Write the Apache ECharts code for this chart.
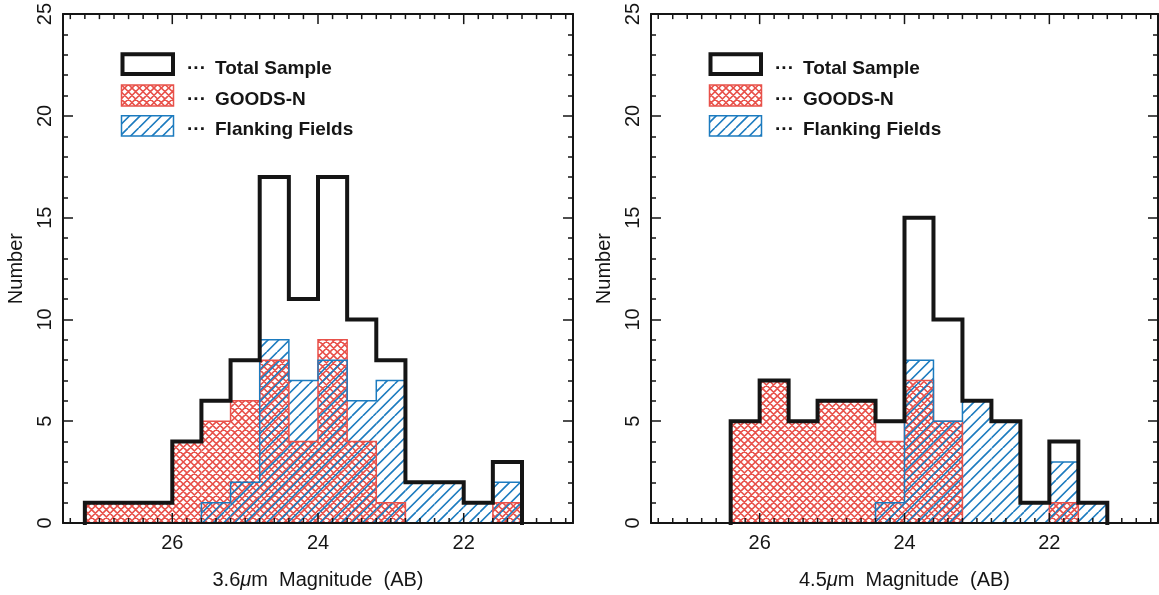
<!DOCTYPE html>
<html>
<head>
<meta charset="utf-8">
<title>IRAC magnitude histograms</title>
<script src="https://cdn.jsdelivr.net/npm/echarts@6/dist/echarts.min.js"></script>
<style>
  html, body { margin: 0; padding: 0; background: #fff; }
  #chart { width: 1159px; height: 595px; }
</style>
</head>
<body>
<div id="chart"></div>
<script>
// bins are 0.4 mag wide, listed by their faint edge
const binWidth = 0.4;
const xMin = 20.5, xMax = 27.5;
const xMajorTicks = [22, 24, 26];
const xMinorStep = 0.2;

// 3.6um panel
const binStart36 = [27.2, 26.8, 26.4, 26.0, 25.6, 25.2, 24.8, 24.4, 24.0, 23.6, 23.2, 22.8, 22.4, 22.0, 21.6];
const total36 = [1, 1, 1, 4, 6, 8, 17, 11, 17, 10, 8, 2, 2, 1, 3];
const goods36 = [1, 1, 1, 4, 5, 6, 8, 4, 9, 4, 1, 0, 0, 0, 1];
const flank36 = [0, 0, 0, 0, 1, 2, 9, 7, 8, 6, 7, 2, 2, 1, 2];

// 4.5um panel
const binStart45 = [26.4, 26.0, 25.6, 25.2, 24.8, 24.4, 24.0, 23.6, 23.2, 22.8, 22.4, 22.0, 21.6];
const total45 = [5, 7, 5, 6, 6, 5, 15, 10, 6, 5, 1, 4, 1];
const goods45 = [5, 7, 5, 6, 6, 4, 7, 5, 0, 0, 0, 1, 0];
const flank45 = [0, 0, 0, 0, 0, 1, 8, 5, 6, 5, 1, 3, 1];

const legendNames = ['Total Sample', 'GOODS-N', 'Flanking Fields'];

const RED = '#e8514a';
const BLUE = '#1c7bbf';
const INK = '#151515';
const FONT = 'Liberation Sans';

// hatch fill as a repeating canvas pattern
function hatch(color, tile, lines, cross) {
    const c = document.createElement('canvas');
    c.width = tile; c.height = tile;
    const g = c.getContext('2d');
    g.strokeStyle = color;
    g.lineWidth = 1.6;
    const s = tile / lines;
    g.beginPath();
    for (let n = -lines; n <= 2 * lines; n++) {
        const k = n * s;
        g.moveTo(k, 0); g.lineTo(k - tile, tile);
        if (cross) { g.moveTo(k, 0); g.lineTo(k + tile, tile); }
    }
    g.stroke();
    return { image: c, repeat: 'repeat' };
}
const redFill = hatch(RED, 22, 3, true);
const blueFill = hatch(BLUE, 32, 3, false);

// x ticks every 0.2 mag, long ones at the labelled values
const xTicks = [];
for (let i = 1; i * xMinorStep + 20.4 < xMax; i++) {
    xTicks.push(+(20.4 + i * xMinorStep).toFixed(1));
}

function outline(starts, vals) {
    const pts = [];
    let prev = 0;
    starts.forEach(function (s, i) {
        const v = vals[i], e = s - binWidth;
        if (v > 0) {
            if (prev === 0) pts.push([s, 0]);
            pts.push([s, v], [e, v]);
        } else if (prev > 0) {
            pts.push([s, 0], ['-', '-']);
        }
        prev = v;
    });
    if (prev > 0) pts.push([starts[starts.length - 1] - binWidth, 0]);
    return pts;
}

function fillSeries(gi, starts, vals, pattern, z) {
    return {
        type: 'custom',
        xAxisIndex: gi * 2,
        yAxisIndex: gi * 2,
        z: z,
        silent: true,
        data: starts.map(function (s, i) { return [s, vals[i]]; }),
        renderItem: function (params, api) {
            const s = api.value(0), v = api.value(1);
            if (!v) return null;
            const a = api.coord([s, v]);
            const b = api.coord([s - binWidth, 0]);
            return {
                type: 'rect',
                shape: { x: Math.min(a[0], b[0]), y: a[1], width: Math.abs(b[0] - a[0]), height: b[1] - a[1] },
                style: { fill: pattern }
            };
        }
    };
}

function lineSeries(gi, starts, vals, color, width, z) {
    return {
        type: 'line',
        xAxisIndex: gi * 2,
        yAxisIndex: gi * 2,
        z: z,
        silent: true,
        symbol: 'none',
        connectNulls: false,
        data: outline(starts, vals),
        lineStyle: { color: color, width: width, join: 'miter', cap: 'square' }
    };
}

// inside ticks on bottom and top frame lines
function tickSeries(gi) {
    return {
        type: 'custom',
        xAxisIndex: gi * 2,
        yAxisIndex: gi * 2,
        z: 6,
        silent: true,
        clip: false,
        data: xTicks.map(function (t) { return [t, 0]; }),
        renderItem: function (params, api) {
            const t = api.value(0);
            const len = xMajorTicks.indexOf(t) >= 0 ? 10 : 5;
            const lo = api.coord([t, 0]);
            const hi = api.coord([t, 25]);
            const st = { stroke: INK, lineWidth: 1.5 };
            return {
                type: 'group',
                children: [
                    { type: 'line', shape: { x1: lo[0], y1: lo[1], x2: lo[0], y2: lo[1] - len }, style: st },
                    { type: 'line', shape: { x1: hi[0], y1: hi[1], x2: hi[0], y2: hi[1] + len }, style: st }
                ]
            };
        }
    };
}

function xAxes(gi, name) {
    const base = {
        gridIndex: gi, type: 'value', min: xMin, max: xMax, inverse: true, z: 10,
        splitLine: { show: false },
        axisLine: { show: true, onZero: false, lineStyle: { color: INK, width: 2 } },
        axisTick: { show: false }
    };
    return [
        Object.assign({}, base, {
            position: 'bottom',
            name: name, nameLocation: 'middle', nameGap: 47,
            nameTextStyle: { fontFamily: FONT, fontSize: 20, color: INK,
                rich: { i: { fontFamily: FONT, fontSize: 20, fontStyle: 'italic', color: INK } } },
            axisLabel: { customValues: xMajorTicks, margin: 10, fontFamily: FONT, fontSize: 20, color: INK }
        }),
        Object.assign({}, base, {
            position: 'top',
            axisLabel: { show: false }
        })
    ];
}

function yAxes(gi) {
    const base = {
        gridIndex: gi, type: 'value', min: 0, max: 25, interval: 5, z: 10,
        splitLine: { show: false },
        axisLine: { show: true, onZero: false, lineStyle: { color: INK, width: 2 } },
        axisTick: { inside: true, length: 10, lineStyle: { color: INK, width: 1.5 } },
        minorTick: { show: true, splitNumber: 5, length: 5, lineStyle: { color: INK, width: 1.5 } }
    };
    return [
        Object.assign({}, base, {
            position: 'left',
            name: 'Number', nameLocation: 'middle', nameRotate: 90, nameGap: 37,
            nameTextStyle: { fontFamily: FONT, fontSize: 20, color: INK },
            axisLabel: { rotate: 90, margin: 8, fontFamily: FONT, fontSize: 20, color: INK }
        }),
        Object.assign({}, base, {
            position: 'right',
            axisLabel: { show: false }
        })
    ];
}

function legend(x0) {
    const rows = [69, 100, 130];
    const els = [
        { type: 'rect', shape: { x: x0 + 59.5, y: 54.3, width: 50.5, height: 19.7 },
          style: { fill: 'none', stroke: INK, lineWidth: 4 } },
        { type: 'rect', shape: { x: x0 + 58.5, y: 85, width: 52, height: 21 },
          style: { fill: redFill, stroke: RED, lineWidth: 1.5 } },
        { type: 'rect', shape: { x: x0 + 58.5, y: 115.7, width: 52, height: 20.3 },
          style: { fill: blueFill, stroke: BLUE, lineWidth: 1.5 } }
    ];
    legendNames.forEach(function (t, i) {
        els.push({ type: 'text', x: x0 + 124, y: rows[i],
            style: { text: '\u00b7\u00b7\u00b7', font: 'bold 19px "' + FONT + '"', fill: INK, verticalAlign: 'middle' } });
        els.push({ type: 'text', x: x0 + 152, y: rows[i],
            style: { text: t, font: 'bold 19px "' + FONT + '"', fill: INK, verticalAlign: 'middle' } });
    });
    return els;
}

const chart = echarts.init(document.getElementById('chart'));
chart.setOption({
    animation: false,
    backgroundColor: '#fff',
    grid: [
        { left: 63, top: 14, width: 510, height: 509 },
        { left: 651, top: 14, width: 507, height: 509 }
    ],
    xAxis: xAxes(0, '3.6{i|\u03bc}m  Magnitude  (AB)').concat(xAxes(1, '4.5{i|\u03bc}m  Magnitude  (AB)')),
    yAxis: yAxes(0).concat(yAxes(1)),
    graphic: legend(63).concat(legend(651)),
    series: [
        fillSeries(0, binStart36, goods36, redFill, 1),
        fillSeries(0, binStart36, flank36, blueFill, 2),
        lineSeries(0, binStart36, goods36, RED, 1.5, 3),
        lineSeries(0, binStart36, flank36, BLUE, 1.5, 4),
        lineSeries(0, binStart36, total36, INK, 4, 5),
        tickSeries(0),
        fillSeries(1, binStart45, goods45, redFill, 1),
        fillSeries(1, binStart45, flank45, blueFill, 2),
        lineSeries(1, binStart45, goods45, RED, 1.5, 3),
        lineSeries(1, binStart45, flank45, BLUE, 1.5, 4),
        lineSeries(1, binStart45, total45, INK, 4, 5),
        tickSeries(1)
    ]
});
</script>
</body>
</html>
